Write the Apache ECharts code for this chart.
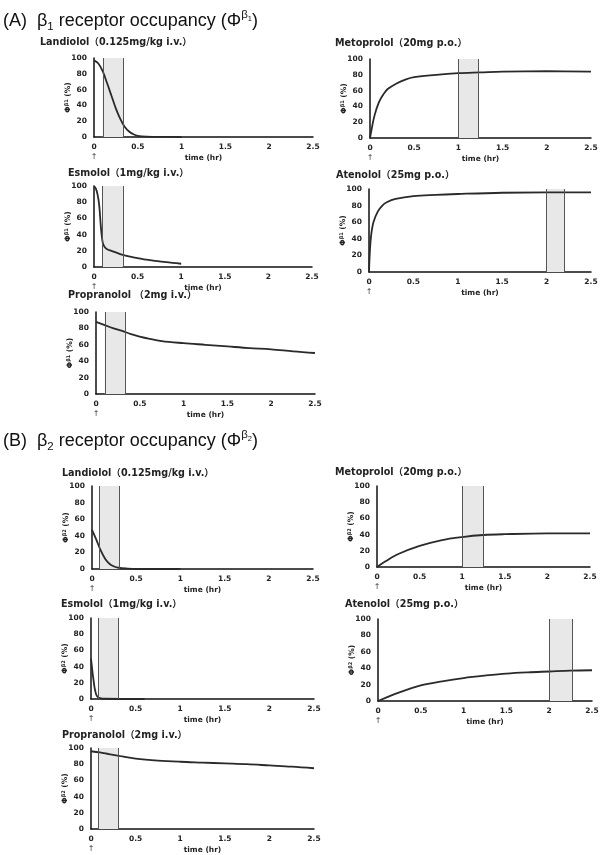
<!DOCTYPE html>
<html>
<head>
<meta charset="utf-8">
<script src="https://cdn.jsdelivr.net/npm/echarts@6/dist/echarts.min.js"></script>
<style>
  html, body { margin: 0; padding: 0; background: #fff; }
  #main { width: 607px; height: 855px; }
</style>
</head>
<body>
<div id="main"></div>
<script>
// ---- data: time (hr) and receptor occupancy (%) ----
var xTicks = [0, 0.5, 1, 1.5, 2, 2.5];
var yTicks = [0, 20, 40, 60, 80, 100];

// (A) beta1
var landiololA_t = [0, 0.05, 0.1, 0.15, 0.2, 0.25, 0.3, 0.35, 0.4, 0.45, 0.5, 0.6, 0.8, 1.0];
var landiololA   = [97, 93, 83, 68, 52, 36, 23, 13, 7, 3.5, 1.5, 0.5, 0.1, 0];
var metoprololA_t = [0, 0.02, 0.05, 0.1, 0.15, 0.2, 0.3, 0.4, 0.5, 0.75, 1, 1.25, 1.5, 2, 2.5];
var metoprololA   = [0, 12, 28, 45, 55, 62, 69, 74, 77, 80, 82, 83, 84, 84.5, 84];
var esmololA_t = [0, 0.02, 0.04, 0.06, 0.08, 0.1, 0.12, 0.15, 0.2, 0.3, 0.4, 0.5, 0.6, 0.75, 0.9, 1.0];
var esmololA   = [100, 97, 90, 76, 48, 30, 25, 22, 20, 16, 13, 11, 9, 7, 5, 4];
var atenololA_t = [0, 0.01, 0.025, 0.05, 0.1, 0.15, 0.2, 0.3, 0.5, 0.75, 1, 1.5, 2, 2.5];
var atenololA   = [0, 25, 45, 60, 73, 80, 84, 88, 91.5, 93, 94, 95.5, 96, 96];
var propranololA_t = [0, 0.1, 0.2, 0.3, 0.4, 0.5, 0.6, 0.75, 1, 1.25, 1.5, 1.75, 2, 2.25, 2.5];
var propranololA   = [88, 84, 80, 77, 73, 70, 67.5, 64.5, 62, 60, 58, 56, 54.5, 52, 50];

// (B) beta2
var landiololB_t = [0, 0.05, 0.1, 0.15, 0.2, 0.25, 0.3, 0.4, 0.5, 1.0];
var landiololB   = [47, 35, 22, 12, 6, 3, 1.5, 0.5, 0, 0];
var metoprololB_t = [0, 0.1, 0.25, 0.5, 0.75, 1, 1.25, 1.5, 2, 2.5];
var metoprololB   = [0, 7, 16, 26, 33, 37, 39.5, 40.5, 41.5, 41.5];
var esmololB_t = [0, 0.01, 0.02, 0.03, 0.04, 0.05, 0.06, 0.08, 0.1, 0.15, 0.6];
var esmololB   = [50, 40, 30, 22, 14, 9, 5, 2, 1, 0.3, 0];
var atenololB_t = [0, 0.25, 0.5, 0.75, 1, 1.25, 1.5, 1.75, 2, 2.25, 2.5];
var atenololB   = [0, 10.5, 19, 24, 28, 31, 33.5, 35, 36, 37, 37.5];
var propranololB_t = [0, 0.1, 0.2, 0.33, 0.5, 0.75, 1, 1.25, 1.5, 1.75, 2, 2.25, 2.5];
var propranololB   = [96, 94.5, 92.5, 90, 87, 84.5, 83, 82, 81, 80, 78.5, 77, 75];

// shaded sampling windows (hr)
var bandA_iv = [0.1, 0.33];
var bandA_meto = [1, 1.23];
var bandA_aten = [2, 2.2];
var bandB_iv = [0.08, 0.31];
var bandB_meto = [1, 1.25];
var bandB_aten = [2, 2.27];

var panels = [
  { title: 'Landiolol（0.125mg/kg i.v.）', t: landiololA_t, v: landiololA, band: bandA_iv, sub: '1',
    box: [94, 58, 219, 79], tpos: [40, 38] },
  { title: 'Metoprolol（20mg p.o.）', t: metoprololA_t, v: metoprololA, band: bandA_meto, sub: '1',
    box: [370, 59, 221, 79], tpos: [335, 39] },
  { title: 'Esmolol（1mg/kg i.v.）', t: esmololA_t, v: esmololA, band: bandA_iv, sub: '1',
    box: [94, 186, 218, 81], tpos: [68, 169] },
  { title: 'Atenolol（25mg p.o.）', t: atenololA_t, v: atenololA, band: bandA_aten, sub: '1',
    box: [369, 189, 222, 83], tpos: [336, 171] },
  { title: 'Propranolol （2mg i.v.）', t: propranololA_t, v: propranololA, band: bandA_iv, sub: '1',
    box: [96, 312, 219, 82], tpos: [68, 291] },
  { title: 'Landiolol（0.125mg/kg i.v.）', t: landiololB_t, v: landiololB, band: bandB_iv, sub: '2',
    box: [92, 486, 221, 83], tpos: [62, 469] },
  { title: 'Metoprolol（20mg p.o.）', t: metoprololB_t, v: metoprololB, band: bandB_meto, sub: '2',
    box: [377, 486, 213, 81], tpos: [335, 468] },
  { title: 'Esmolol（1mg/kg i.v.）', t: esmololB_t, v: esmololB, band: bandB_iv, sub: '2',
    box: [91, 618, 223, 81], tpos: [61, 600] },
  { title: 'Atenolol（25mg p.o.）', t: atenololB_t, v: atenololB, band: bandB_aten, sub: '2',
    box: [378, 619, 214, 82], tpos: [345, 600] },
  { title: 'Propranolol（2mg i.v.）', t: propranololB_t, v: propranololB, band: bandB_iv, sub: '2',
    box: [91, 748, 223, 81], tpos: [62, 731] }
];

var FONT = 'DejaVu Sans, Noto Sans CJK SC, sans-serif';
var INK = '#222';

var chart = echarts.init(document.getElementById('main'), null, { renderer: 'canvas' });

var SANS = 'Liberation Sans, Noto Sans CJK SC, sans-serif';
var mainTitleRich = {
  t: { fontSize: 18, fontWeight: 'normal', fontFamily: SANS, color: '#111', lineHeight: 24 },
  sub: { fontSize: 11.5, fontWeight: 'normal', fontFamily: SANS, color: '#111', lineHeight: 12, verticalAlign: 'bottom' },
  sup: { fontSize: 11.5, fontWeight: 'normal', fontFamily: SANS, color: '#111', lineHeight: 11, verticalAlign: 'top' },
  supsub: { fontSize: 7.5, fontWeight: 'normal', fontFamily: SANS, color: '#111', lineHeight: 7,
    verticalAlign: 'top', padding: [6, 0, 0, 0] }
};

var titles = [
  { text: '{t|(A)  β}{sub|1}{t| receptor occupancy (Φ}{sup|β}{supsub|1}{t|)}', left: 3, top: 9, padding: 0,
    textStyle: { fontWeight: 'normal', rich: mainTitleRich } },
  { text: '{t|(B)  β}{sub|2}{t| receptor occupancy (Φ}{sup|β}{supsub|2}{t|)}', left: 3, top: 429, padding: 0,
    textStyle: { fontWeight: 'normal', rich: mainTitleRich } }
];
var grids = [], xAxes = [], yAxes = [], series = [];

panels.forEach(function (p, i) {
  titles.push({
    text: p.title, left: p.tpos[0], top: p.tpos[1], padding: 0,
    textStyle: { fontSize: 9.6, fontWeight: 'bold', fontFamily: FONT, color: INK }
  });
  grids.push({ left: p.box[0], top: p.box[1], width: p.box[2], height: p.box[3] });
  xAxes.push({
    type: 'value', gridIndex: i, min: 0, max: 2.5, interval: 0.5,
    name: 'time (hr)', nameLocation: 'middle', nameGap: 17, nameMoveOverlap: false,
    nameTextStyle: { fontSize: 7.5, fontWeight: 'bold', fontFamily: FONT, color: INK },
    axisLine: { onZero: false, lineStyle: { color: '#111', width: 1.5 } },
    axisTick: { show: false },
    splitLine: { show: false },
    axisLabel: {
      margin: 6, fontSize: 7.5, fontWeight: 'bold', fontFamily: FONT, color: INK, lineHeight: 9,
      formatter: function (v) { return v === 0 ? '0\n{a|↑}' : String(v); },
      rich: { a: { fontSize: 8, fontWeight: 'normal', color: '#444', lineHeight: 9 } }
    }
  });
  yAxes.push({
    type: 'value', gridIndex: i, min: 0, max: 100, interval: 20,
    name: '{p|Φ}{s|β' + p.sub + '}{p| (%)}', nameLocation: 'middle', nameGap: 22, nameRotate: 90,
    nameMoveOverlap: false,
    nameTextStyle: {
      rich: {
        p: { fontSize: 7.5, fontWeight: 'bold', fontFamily: FONT, color: INK },
        s: { fontSize: 5, fontWeight: 'bold', fontFamily: FONT, color: INK, verticalAlign: 'top' }
      }
    },
    axisLine: { show: true, lineStyle: { color: '#111', width: 1.5 } },
    axisTick: { show: false },
    splitLine: { show: false },
    axisLabel: { margin: 7, fontSize: 7.5, fontWeight: 'bold', fontFamily: FONT, color: INK }
  });
  series.push({
    type: 'line', xAxisIndex: i, yAxisIndex: i,
    data: p.t.map(function (t, k) { return [t, p.v[k]]; }),
    smooth: 0.35, showSymbol: false, silent: true,
    lineStyle: { color: '#2a2a2a', width: 1.8 },
    markArea: {
      silent: true,
      itemStyle: { color: '#e8e8e8' },
      data: [[{ xAxis: p.band[0] }, { xAxis: p.band[1] }]]
    },
    markLine: {
      silent: true, symbol: ['none', 'none'], label: { show: false },
      lineStyle: { color: '#555', width: 1, type: 'solid' },
      data: [{ xAxis: p.band[0] }, { xAxis: p.band[1] }]
    }
  });
});

chart.setOption({
  backgroundColor: '#fff',
  animation: false,
  title: titles,
  grid: grids,
  xAxis: xAxes,
  yAxis: yAxes,
  series: series
});
</script>
</body>
</html>
